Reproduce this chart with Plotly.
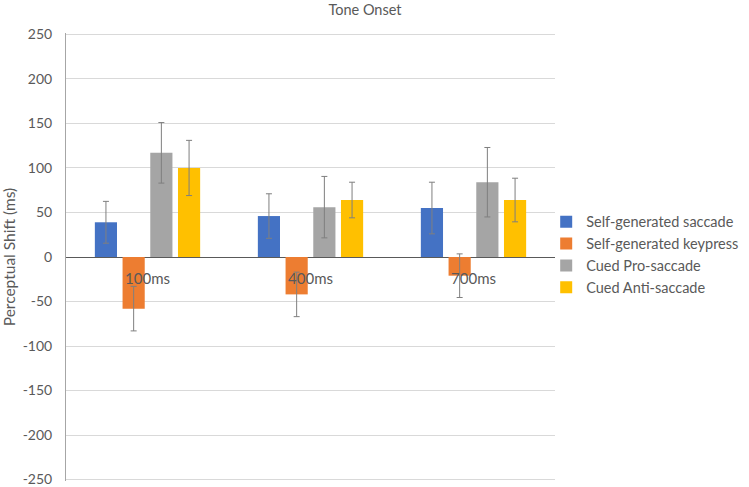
import plotly.graph_objects as go

categories = ["100ms", "400ms", "700ms"]
series_names = ["Self-generated saccade", "Self-generated keypress", "Cued Pro-saccade", "Cued Anti-saccade"]
self_saccade = [39, 46, 55]
self_keypress = [-58, -42, -21]
cued_pro = [117, 56, 84]
cued_anti = [100, 64, 64]
err_self_saccade = [23.5, 25, 29]
err_self_keypress = [25, 25, 24.5]
err_cued_pro = [34, 34.5, 39]
err_cued_anti = [31, 20, 24.5]
y_ticks = [250, 200, 150, 100, 50, 0, -50, -100, -150, -200, -250]

colors = ["#4472C4", "#ED7D31", "#A5A5A5", "#FFC000"]
values = [self_saccade, self_keypress, cued_pro, cued_anti]
errors = [err_self_saccade, err_self_keypress, err_cued_pro, err_cued_anti]

fig = go.Figure()
for name, vals, errs, col in zip(series_names, values, errors, colors):
    fig.add_trace(go.Bar(
        x=categories, y=vals, name=name, marker_color=col, marker_line_width=0,
        error_y=dict(type="data", array=errs, visible=True, color="#7f7f7f", thickness=1, width=3),
    ))

font_fam = "Lato, 'Open Sans', sans-serif"
fig.update_layout(
    width=749, height=487,
    margin=dict(l=66, r=194, t=33, b=6, autoexpand=False),
    paper_bgcolor="white", plot_bgcolor="white",
    barmode="group", bargap=0.32, bargroupgap=0.2,
    font=dict(family=font_fam, color="#595959", size=14),
    title=dict(text="Tone Onset", x=365 / 749, xanchor="center", xref="container",
               y=1 - 10 / 487, yanchor="middle", yref="container", pad=dict(t=0, b=0),
               font=dict(size=14.5, color="#595959", family=font_fam)),
    legend=dict(x=0.982, xanchor="left", y=0.505, yanchor="middle", font=dict(size=14.5, color="#595959"),
                itemwidth=30, tracegroupgap=0, bgcolor="rgba(0,0,0,0)"),
    showlegend=True,
)
fig.update_yaxes(
    range=[-251.6, 251.6], tickvals=y_ticks, ticktext=[str(v) for v in y_ticks],
    showgrid=True, gridcolor="#d9d9d9", gridwidth=1,
    zeroline=True, zerolinecolor="#595959", zerolinewidth=1,
    showline=True, linecolor="#a6a6a6", linewidth=1,
    automargin=False, ticklabelstandoff=10, ticklabeloverflow="allow",
    title=dict(text="Perceptual Shift (ms)", font=dict(size=15.5, color="#595959"), standoff=4),
    tickfont=dict(size=14, color="#595959"),
)
fig.update_xaxes(
    anchor="free", position=0.5, showline=False, showgrid=False, zeroline=False,
    automargin=False, ticklabeloverflow="allow",
    ticks="", tickfont=dict(size=15, color="#595959"), ticklabelstandoff=11,
)
fig.write_html("out.html", post_script="document.body.style.margin='0';",
               config={"displayModeBar": False})
